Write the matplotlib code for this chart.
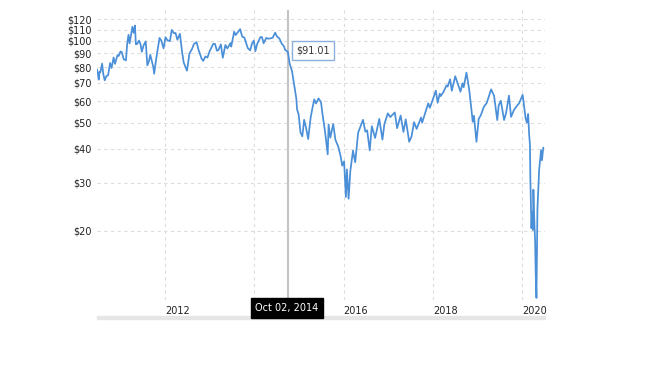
import pandas as pd
import matplotlib
matplotlib.use("Agg")
import matplotlib.pyplot as plt
from matplotlib.patches import Rectangle
from matplotlib.ticker import FixedLocator, NullLocator

# crude oil price
dates = [
    "2010-06-23", "2010-06-29", "2010-07-06", "2010-07-13", "2010-07-20", "2010-08-03", "2010-08-12",
    "2010-08-24", "2010-09-07", "2010-09-21", "2010-10-07", "2010-10-19", "2010-11-05", "2010-11-16",
    "2010-12-07", "2010-12-17", "2010-12-31", "2011-01-10", "2011-01-27", "2011-02-14", "2011-02-24",
    "2011-03-07", "2011-03-16", "2011-04-08", "2011-04-18", "2011-04-29", "2011-05-06", "2011-05-16",
    "2011-06-01", "2011-06-13", "2011-06-24", "2011-07-08", "2011-07-26", "2011-08-08", "2011-08-22",
    "2011-09-01", "2011-09-26", "2011-10-03", "2011-10-20", "2011-11-16", "2011-12-01", "2011-12-19",
    "2012-01-04", "2012-01-19", "2012-02-09", "2012-02-24", "2012-03-13", "2012-03-26", "2012-04-10",
    "2012-05-01", "2012-05-18", "2012-06-01", "2012-06-28", "2012-07-18", "2012-08-08", "2012-08-23",
    "2012-09-14", "2012-10-01", "2012-10-25", "2012-11-07", "2012-11-26", "2012-12-12", "2012-12-31",
    "2013-01-29", "2013-02-12", "2013-02-28", "2013-03-12", "2013-04-01", "2013-04-17", "2013-05-08",
    "2013-05-24", "2013-06-19", "2013-06-25", "2013-07-19", "2013-07-31", "2013-08-27", "2013-09-06",
    "2013-09-23", "2013-10-10", "2013-11-07", "2013-11-27", "2013-12-11", "2013-12-27", "2014-01-09",
    "2014-01-23", "2014-02-19", "2014-03-04", "2014-03-17", "2014-04-08", "2014-04-24", "2014-05-13",
    "2014-05-30", "2014-06-20", "2014-07-03", "2014-07-24", "2014-08-13", "2014-08-29", "2014-09-09",
    "2014-09-24", "2014-10-02", "2014-10-16", "2014-11-05", "2014-11-28", "2014-12-10", "2014-12-16",
    "2014-12-29", "2015-01-13", "2015-01-28", "2015-02-12", "2015-02-26", "2015-03-17", "2015-04-06",
    "2015-04-21", "2015-05-06", "2015-05-20", "2015-06-10", "2015-06-30", "2015-07-14", "2015-07-31",
    "2015-08-24", "2015-08-31", "2015-09-14", "2015-10-08", "2015-10-26", "2015-11-18", "2015-12-07",
    "2015-12-21", "2016-01-05", "2016-01-20", "2016-01-28", "2016-02-11", "2016-02-25", "2016-03-18",
    "2016-04-05", "2016-04-29", "2016-05-26", "2016-06-08", "2016-06-27", "2016-07-12", "2016-08-02",
    "2016-08-19", "2016-09-15", "2016-10-19", "2016-11-14", "2016-11-30", "2016-12-28", "2017-01-17",
    "2017-02-23", "2017-03-14", "2017-04-12", "2017-05-05", "2017-05-24", "2017-06-21", "2017-07-10",
    "2017-07-31", "2017-08-21", "2017-09-26", "2017-10-05", "2017-10-30", "2017-11-24", "2017-12-07",
    "2017-12-29", "2018-01-25", "2018-02-09", "2018-02-26", "2018-03-06", "2018-03-29", "2018-04-23",
    "2018-05-02", "2018-05-22", "2018-06-05", "2018-07-03", "2018-08-15", "2018-08-31", "2018-09-10",
    "2018-10-03", "2018-10-24", "2018-11-13", "2018-11-23", "2018-12-03", "2018-12-24", "2019-01-11",
    "2019-01-29", "2019-02-21", "2019-03-18", "2019-04-23", "2019-05-17", "2019-06-12", "2019-06-24",
    "2019-07-11", "2019-08-07", "2019-08-23", "2019-09-16", "2019-10-03", "2019-10-28", "2019-11-22",
    "2019-12-09", "2019-12-27", "2020-01-06", "2020-01-31", "2020-02-10", "2020-02-20", "2020-02-28",
    "2020-03-06", "2020-03-09", "2020-03-18", "2020-03-23", "2020-03-30", "2020-04-03", "2020-04-09",
    "2020-04-14", "2020-04-17", "2020-04-22", "2020-04-28", "2020-05-06", "2020-05-20", "2020-06-05",
    "2020-06-12", "2020-06-23",
]
prices = [
    78.3, 75.9, 72.0, 77.0, 76.8, 82.5, 75.7,
    71.6, 74.2, 74.7, 82.9, 79.5, 86.9, 82.3,
    88.7, 88.0, 91.4, 91.1, 85.6, 84.8, 97.3,
    105.4, 97.9, 112.8, 107.1, 113.9, 97.2, 97.4,
    100.3, 97.3, 91.2, 96.2, 99.6, 81.3, 84.4,
    88.9, 80.2, 75.7, 86.1, 102.6, 100.2, 93.9,
    103.2, 100.6, 99.8, 109.8, 106.7, 107.0, 101.0,
    106.2, 91.5, 83.2, 77.7, 89.9, 93.4, 97.3,
    99.0, 92.5, 86.1, 84.4, 87.7, 86.8, 91.8,
    97.6, 97.5, 92.0, 92.5, 97.1, 86.7, 96.6,
    93.8, 98.2, 95.3, 108.1, 105.1, 109.0, 110.5,
    103.6, 103.0, 94.2, 92.3, 97.4, 100.3, 91.7,
    97.3, 103.3, 103.3, 98.0, 102.6, 101.9, 102.2,
    102.7, 107.3, 104.1, 102.1, 97.6, 95.9, 92.8,
    91.6, 91.0, 82.7, 77.2, 66.2, 61.3, 55.9,
    53.6, 46.0, 44.5, 51.2, 48.2, 43.5, 52.1,
    56.6, 60.9, 58.8, 61.4, 59.5, 53.0, 47.1,
    38.2, 49.2, 44.0, 49.4, 43.2, 40.8, 37.7,
    34.7, 36.0, 26.6, 33.6, 26.2, 33.1, 39.4,
    35.7, 45.9, 49.5, 51.2, 46.3, 46.8, 39.5,
    48.5, 43.9, 51.6, 43.3, 49.4, 54.1, 52.4,
    54.5, 47.7, 53.1, 46.2, 51.4, 42.5, 44.4,
    50.2, 47.4, 52.2, 50.0, 54.2, 58.9, 56.7,
    60.4, 65.6, 59.2, 63.9, 62.6, 64.9, 68.6,
    67.9, 72.2, 65.5, 74.1, 65.0, 69.8, 67.5,
    76.4, 66.8, 55.7, 50.4, 53.0, 42.5, 51.6,
    53.3, 57.0, 59.1, 66.3, 62.8, 51.1, 57.9,
    60.2, 51.1, 54.2, 62.9, 52.5, 55.8, 57.8,
    59.0, 61.7, 63.3, 51.6, 50.0, 53.8, 45.3,
    41.3, 31.1, 20.4, 23.4, 20.1, 28.3, 22.8,
    20.1, 18.3, 13.8, 11.3, 24.0, 33.5, 39.6,
    36.3, 40.4,
]
y_ticks = [20, 30, 40, 50, 60, 70, 80, 90, 100, 110, 120]
x_years = [2012, 2014, 2016, 2018, 2020]
x_labels = ["2012", "", "2016", "2018", "2020"]  # 2014 sits under the date tooltip

hover_date = "2014-10-02"
hover_price = 91.01

W, H = 650, 375
fig = plt.figure(figsize=(6.5, 3.75), dpi=100)
ax = fig.add_axes([97 / W, 1 - 300 / H, 448 / W, 290 / H])

dt = pd.to_datetime(dates)
ax.plot(dt, prices, color="#4a8fd8", lw=1.25, zorder=3)

ax.set_yscale("log")
ax.set_ylim(11.1, 130)
ax.set_xlim(pd.Timestamp("2010-06-22"), pd.Timestamp("2020-07-07"))

ax.yaxis.set_major_locator(FixedLocator(y_ticks))
ax.yaxis.set_minor_locator(NullLocator())
ax.set_yticklabels([f"${v}" for v in y_ticks])

ax.set_xticks([pd.Timestamp(f"{y}-01-01") for y in x_years])
ax.set_xticklabels(x_labels, ha="left")
ax.xaxis.set_minor_locator(NullLocator())

ax.tick_params(axis="both", length=0, labelsize=7, colors="#222222")
ax.tick_params(axis="y", pad=4)
ax.tick_params(axis="x", pad=4)

ax.grid(True, color="#dddddd", lw=0.8, dashes=(3, 3))
ax.set_axisbelow(True)
for s in ax.spines.values():
    s.set_visible(False)

# hover crosshair
hd = pd.Timestamp(hover_date)
ax.axvline(hd, color="#c4c4c4", lw=1.5, zorder=2)
ax.annotate(f"${hover_price:.2f}", xy=(hd, hover_price), xytext=(18, 1),
            textcoords="offset points", ha="center", va="center", fontsize=7,
            color="#333333", zorder=5,
            bbox=dict(boxstyle="square,pad=0.45", fc="white", ec="#8ab0dc", lw=1))

# bottom band
fig.patches.append(Rectangle((97 / W, 1 - 319 / H), 448 / W, 3 / H,
                             transform=fig.transFigure, color="#e6e6e6", zorder=0))

# date tooltip
fig.text(287 / W, 1 - 308 / H, "Oct 02, 2014", ha="center", va="center",
         fontsize=7, color="white", zorder=10,
         bbox=dict(boxstyle="square,pad=0.5", fc="black", ec="black"))

fig.savefig("out.png", dpi=100)
